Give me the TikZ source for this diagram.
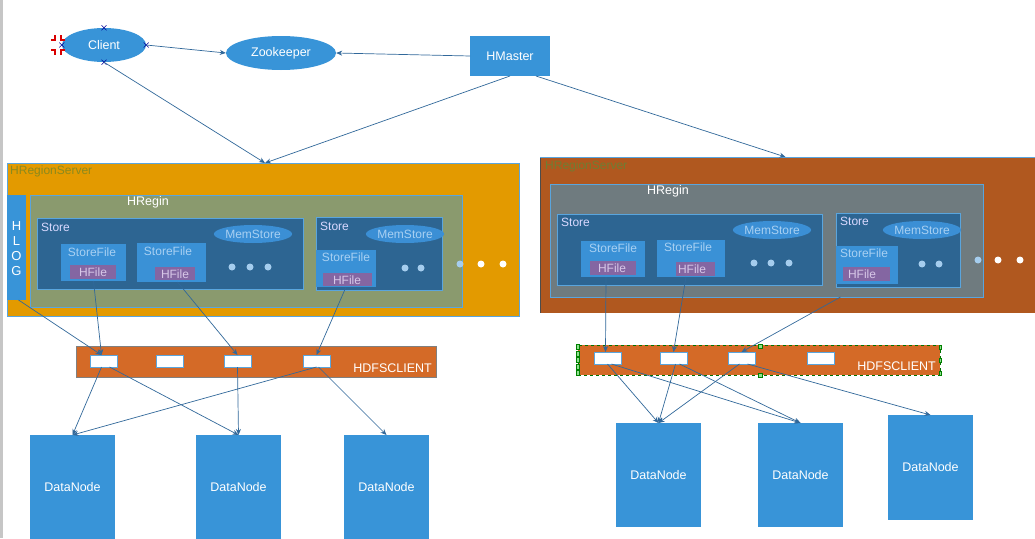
\documentclass[tikz,border=0pt]{standalone}
\usepackage{fontspec}
\setmainfont{Liberation Sans}
\usetikzlibrary{shapes.geometric,arrows.meta,calc}
\definecolor{nodeblue}{HTML}{3894D8}
\definecolor{arrowc}{HTML}{31689A}
\definecolor{rsorange}{HTML}{E39A00}
\definecolor{rsbrown}{HTML}{B0581F}
\definecolor{hrolive}{HTML}{8A9A6E}
\definecolor{hrgray}{HTML}{6F7B7F}
\definecolor{storeblue}{HTML}{2D6592}
\definecolor{sfblue}{HTML}{3A91D6}
\definecolor{hfpurple}{HTML}{8466A2}
\definecolor{msblue}{HTML}{3B8FD5}
\definecolor{dotblue}{HTML}{A5CDEE}
\definecolor{hdfsc}{HTML}{D46A27}
\definecolor{bordc}{HTML}{5AA5DD}
\definecolor{rstext}{HTML}{8A8A1E}
\definecolor{rstext2}{HTML}{6E7E34}
\definecolor{sftext}{HTML}{A8D0F2}
\definecolor{hftext}{HTML}{D8C8E8}
\definecolor{handleg}{HTML}{90E090}
\tikzset{
  bx/.style={inner sep=0pt, outer sep=0pt, anchor=north west},
  lbl/.style={inner sep=0pt, font=\fontsize{12.5}{14}\selectfont, text=white},
  small/.style={inner sep=0pt, font=\fontsize{12}{13}\selectfont},
  ell/.style={ellipse, inner sep=0pt, fill=nodeblue, text=white, font=\fontsize{12.5}{14}\selectfont},
  conn/.style={draw=arrowc, line width=0.7pt, -{Stealth[length=6pt,width=5pt]}},
  datan/.style={bx, fill=nodeblue, text=white},
  wbox/.style={bx, fill=white, draw=bordc, line width=0.4pt, minimum width=27pt, minimum height=12pt},
  sfbox/.style={bx, fill=sfblue},
  hfbox/.style={bx, fill=hfpurple},
  msell/.style={ellipse, inner sep=0pt, fill=msblue, text=sftext, font=\fontsize{12}{13}\selectfont},
  stbox/.style={bx, fill=storeblue, draw=bordc, line width=0.5pt},
  dotb/.style={circle, fill=dotblue, inner sep=0pt, minimum size=7pt},
  dotw/.style={circle, fill=white, inner sep=0pt, minimum size=7pt},
  hndl/.style={fill=handleg, draw=green!50!black, line width=0.3pt, inner sep=0pt, minimum size=4pt},
}
\begin{document}
\begin{tikzpicture}[x=1pt,y=-1pt]
\useasboundingbox (0,0) rectangle (1035,538);
\fill[white] (0,0) rectangle (1035,538);
\fill[gray!45] (0,0) rectangle (2.5,538);

% ---------- top ----------
\node[ell, minimum width=84pt, minimum height=34pt] (client) at (104,45) {Client};
\node[ell, minimum width=110pt, minimum height=34pt] (zk) at (281,53) {Zookeeper};
\node[bx, fill=nodeblue, text=white, font=\fontsize{12.5}{14}\selectfont, minimum width=80pt, minimum height=40pt, anchor=center] (hm) at (510,56) {HMaster};

% client handles
\foreach \p in {(client.north),(client.east),(client.south),(client.west)}
  \draw[blue!60!black, line width=0.6pt] \p ++(-2.5,-2.5) -- ++(5,5) \p ++(-2.5,2.5) -- ++(5,-5);
\draw[red!85!black, line width=1.3pt]
  (51,40) -- (55,40) -- (55,35) (51,50) -- (55,50) -- (55,55)
  (65,40) -- (61,40) -- (61,35) (65,50) -- (61,50) -- (61,55);

% ---------- left region server ----------
\node[bx, fill=rsorange, draw=bordc, line width=0.6pt, minimum width=512pt, minimum height=153pt] (rs1) at (7,163) {};
\node[small, text=rstext, anchor=west] (rs1t) at (10,171) {HRegionServer};
\node[bx, fill=nodeblue, minimum width=19pt, minimum height=105pt] (hlog) at (7,195) {};
\node[lbl, font=\fontsize{13}{15}\selectfont, align=center] (hlogt) at (16.5,249) {H\\L\\O\\G};
\node[bx, fill=hrolive, draw=bordc, line width=0.5pt, minimum width=432pt, minimum height=112pt] (hr1) at (30,195) {};
\node[lbl] (hr1t) at (148,202) {HRegin};
\node[stbox, minimum width=266pt, minimum height=71pt] (st1a) at (37,218) {};
\node[small, text=white!85!blue, anchor=west] (st1at) at (41,227) {Store};
\node[sfbox, minimum width=65pt, minimum height=37pt] (sf1a) at (61,244) {};
\node[small, text=sftext] (sf1at) at (92,252) {StoreFile};
\node[hfbox, minimum width=46pt, minimum height=14pt] (hf1a) at (70,265) {};
\node[small, text=hftext] (hf1at) at (93,272) {HFile};
\node[sfbox, minimum width=69pt, minimum height=39pt] (sf1b) at (137,243) {};
\node[small, text=sftext] (sf1bt) at (168,251) {StoreFile};
\node[hfbox, minimum width=40pt, minimum height=13pt] (hf1b) at (155,267) {};
\node[small, text=hftext] (hf1bt) at (175,274) {HFile};
\node[msell, minimum width=76pt, minimum height=18pt] (ms1a) at (253,234) {MemStore};
\node[dotb] (d1a) at (232,267) {};
\node[dotb] (d1b) at (250,267) {};
\node[dotb] (d1c) at (268,267) {};
\node[stbox, minimum width=126pt, minimum height=73pt] (st1b) at (316,217) {};
\node[small, text=white!85!blue, anchor=west] (st1bt) at (320,226) {Store};
\node[msell, minimum width=74pt, minimum height=18pt] (ms1b) at (405,234) {MemStore};
\node[sfbox, minimum width=60pt, minimum height=37pt] (sf1c) at (316,250) {};
\node[small, text=sftext] (sf1ct) at (346,257) {StoreFile};
\node[hfbox, minimum width=49pt, minimum height=13pt] (hf1c) at (323,273) {};
\node[small, text=hftext] (hf1ct) at (347,280) {HFile};
\node[dotb] (d1d) at (405,268) {};
\node[dotb] (d1e) at (421,268) {};
\node[dotb] (d1f) at (460,264) {};
\node[dotw] (d1g) at (481,264) {};
\node[dotw] (d1h) at (503,264) {};

% left hdfs client
\node[bx, fill=hdfsc, draw=gray, line width=0.5pt, minimum width=360pt, minimum height=31pt] (hd1) at (76,346) {};
\node[lbl, anchor=east] (hd1t) at (432,368) {HDFSCLIENT};
\node[wbox] (w1a) at (90,355) {};
\node[wbox] (w1b) at (156,355) {};
\node[wbox] (w1c) at (224,355) {};
\node[wbox] (w1d) at (303,355) {};

% left datanodes
\node[datan, minimum width=85pt, minimum height=104pt] (dn1a) at (30,435) {};
\node[datan, minimum width=85pt, minimum height=104pt] (dn1b) at (196,435) {};
\node[datan, minimum width=85pt, minimum height=104pt] (dn1c) at (344,435) {};
\node[lbl] (dn1at) at (72.5,487) {DataNode};
\node[lbl] (dn1bt) at (238.5,487) {DataNode};
\node[lbl] (dn1ct) at (386.5,487) {DataNode};

% ---------- right region server ----------
\node[bx, fill=rsbrown, minimum width=495pt, minimum height=156pt] (rs2) at (540,157) {};
\draw[gray!60!black, line width=1pt] (rs2.north west) -- (rs2.south west);
\draw[bordc, line width=0.5pt] (rs2.north west) -- (rs2.north east);
\node[small, text=rstext2, anchor=west] (rs2t) at (545,166) {HRegionServer};
\node[bx, fill=hrgray, draw=bordc, line width=0.5pt, minimum width=433pt, minimum height=113pt] (hr2) at (550,184) {};
\node[lbl] (hr2t) at (668,191) {HRegin};
\node[stbox, minimum width=265pt, minimum height=71pt] (st2a) at (557,214) {};
\node[small, text=white!85!blue, anchor=west] (st2at) at (561,222) {Store};
\node[sfbox, minimum width=64pt, minimum height=36pt] (sf2a) at (581,241) {};
\node[small, text=sftext] (sf2at) at (613,248) {StoreFile};
\node[hfbox, minimum width=46pt, minimum height=14pt] (hf2a) at (590,261) {};
\node[small, text=hftext] (hf2at) at (612,268) {HFile};
\node[sfbox, minimum width=68pt, minimum height=37pt] (sf2b) at (657,240) {};
\node[small, text=sftext] (sf2bt) at (688,247) {StoreFile};
\node[hfbox, minimum width=39pt, minimum height=14pt] (hf2b) at (676,262) {};
\node[small, text=hftext] (hf2bt) at (692,269) {HFile};
\node[msell, minimum width=74pt, minimum height=18pt] (ms2a) at (772,230) {MemStore};
\node[dotb] (d2a) at (754,263) {};
\node[dotb] (d2b) at (771,263) {};
\node[dotb] (d2c) at (789,263) {};
\node[stbox, minimum width=124pt, minimum height=74pt] (st2b) at (836,213) {};
\node[small, text=white!85!blue, anchor=west] (st2bt) at (840,221) {Store};
\node[msell, minimum width=76pt, minimum height=18pt] (ms2b) at (922,230) {MemStore};
\node[sfbox, minimum width=62pt, minimum height=38pt] (sf2c) at (836,246) {};
\node[small, text=sftext] (sf2ct) at (864,253) {StoreFile};
\node[hfbox, minimum width=47pt, minimum height=14pt] (hf2c) at (843,267) {};
\node[small, text=hftext] (hf2ct) at (862,274) {HFile};
\node[dotb] (d2d) at (922,264) {};
\node[dotb] (d2e) at (939,264) {};
\node[dotb] (d2f) at (978,260) {};
\node[dotw] (d2g) at (998,260) {};
\node[dotw] (d2h) at (1020,260) {};

% right hdfs client
\node[bx, fill=hdfsc, minimum width=362pt, minimum height=30pt] (hd2) at (578,345) {};
\draw[green!45!black, dashed, line width=0.4pt] (hd2.north west) rectangle (hd2.south east);
\node[lbl, anchor=east] (hd2t) at (936,366) {HDFSCLIENT};
\node[wbox] (w2a) at (594,352) {};
\node[wbox] (w2b) at (660,352) {};
\node[wbox] (w2c) at (728,352) {};
\node[wbox] (w2d) at (807,352) {};
\foreach \yy in {347,354,360,367,373}
  \node[hndl, minimum width=3pt, minimum height=5pt] at (578,\yy) {};
\node[hndl] (hg1) at (760,346) {};
\node[hndl] (hg2) at (760,375) {};
\foreach \yy in {347,360,373}
  \node[hndl, minimum width=2pt, minimum height=4pt] at (940,\yy) {};

% right datanodes
\node[datan, minimum width=85pt, minimum height=104pt] (dn2a) at (616,423) {};
\node[datan, minimum width=85pt, minimum height=104pt] (dn2b) at (758,423) {};
\node[datan, minimum width=85pt, minimum height=105pt] (dn2c) at (888,415) {};
\node[lbl] (dn2at) at (658.5,475) {DataNode};
\node[lbl] (dn2bt) at (800.5,475) {DataNode};
\node[lbl] (dn2ct) at (930.5,467) {DataNode};

% ---------- connectors ----------
\draw[conn] (client.east) -- (zk.west);
\draw[conn] (hm.west) -- (zk.east);
\draw[conn] (client.south) -- ([xshift=2pt]rs1.north);
\draw[conn] (hm.south) -- ([xshift=2pt]rs1.north);
\draw[conn] ([xshift=-14pt]hm.south east) -- ([xshift=-2pt]rs2.north);

\draw[conn] ([xshift=2pt]hlog.south) -- ([xshift=-2pt]w1a.north);
\draw[conn] (sf1a.south) -- ([xshift=-2pt]w1a.north);
\draw[conn] ([xshift=6pt]sf1b.south) -- (w1c.north);
\draw[conn] (sf1c.south) -- (w1d.north);
\draw[conn] ([xshift=-2pt]w1a.south) -- (dn1a.north);
\draw[conn] ([xshift=6pt]w1a.south) -- (dn1b.north);
\draw[conn] (w1c.south) -- (dn1b.north);
\draw[conn] ([yshift=-6pt]w1d.center) -- (dn1a.north);
\draw[conn] ([xshift=2pt]w1d.south) -- (dn1c.north);

\draw[conn] ([xshift=-7pt]sf2a.south) -- ([xshift=-2pt]w2a.north);
\draw[conn] ([xshift=-5pt]sf2b.south) -- (w2b.north);
\draw[conn] ([xshift=74pt]hr2.south) -- (w2c.north);
\draw[conn] (w2a.south) -- (dn2a.north);
\draw[conn] ([xshift=4pt]w2a.south) -- (dn2b.north);
\draw[conn] ([xshift=2pt]w2b.south) -- (dn2a.north);
\draw[conn] ([xshift=6pt]w2b.south) -- (dn2b.north);
\draw[conn] ([xshift=-2pt]w2c.south) -- (dn2a.north);
\draw[conn] ([xshift=6pt]w2c.south) -- (dn2c.north);
\end{tikzpicture}
\end{document}
